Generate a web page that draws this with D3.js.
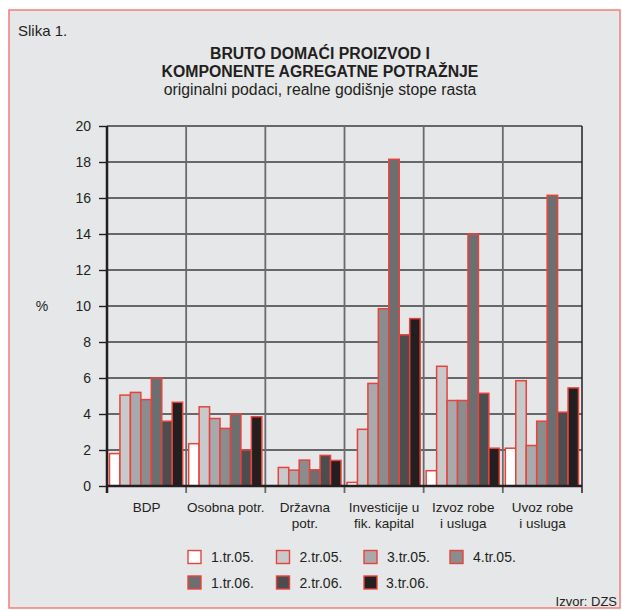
<!DOCTYPE html>
<html><head><meta charset="utf-8">
<script src="https://cdn.jsdelivr.net/npm/d3@7"></script>
<style>
html,body{margin:0;padding:0;background:#fff;}
svg text{font-family:"Liberation Sans",Arial,Helvetica,sans-serif;fill:#231f20;}
</style></head>
<body>
<svg id="chart" width="622" height="610"></svg>
<script>
const categories = [["BDP"],["Osobna potr."],["Državna","potr."],["Investicije u","fik. kapital"],["Izvoz robe","i usluga"],["Uvoz robe","i usluga"]];
const seriesNames = ["1.tr.05.","2.tr.05.","3.tr.05.","4.tr.05.","1.tr.06.","2.tr.06.","3.tr.06."];
const seriesColors = ["#ffffff","#c8c9cb","#a7a9ac","#8a8c8e","#6d6e70","#4d4d4f","#231f20"];
const valBDP = [1.8, 5.05, 5.2, 4.8, 6.0, 3.6, 4.65];
const valOsobna = [2.35, 4.4, 3.75, 3.2, 4.0, 2.0, 3.85];
const valDrzavna = [0.0, 1.03, 0.88, 1.44, 0.9, 1.7, 1.42];
const valInvesticije = [0.2, 3.15, 5.7, 9.85, 18.15, 8.4, 9.3];
const valIzvoz = [0.85, 6.65, 4.75, 4.75, 14.0, 5.15, 2.1];
const valUvoz = [2.1, 5.85, 2.25, 3.6, 16.15, 4.1, 5.45];
const yTicks = [0,2,4,6,8,10,12,14,16,18,20];

(function(){
const values = [valBDP, valOsobna, valDrzavna, valInvesticije, valIzvoz, valUvoz];
const svg = d3.select("#chart");

// frame
svg.append("rect").attr("x",9).attr("y",10).attr("width",611).attr("height",598)
  .attr("fill","#e6e7e9").attr("stroke","#f07f7a").attr("stroke-width",1.5);

svg.append("text").attr("x",18).attr("y",35.5).attr("font-size",15).text("Slika 1.");
svg.append("text").attr("x",320).attr("y",59).attr("font-size",15.8).attr("font-weight","bold").attr("text-anchor","middle").text("BRUTO DOMAĆI PROIZVOD I");
svg.append("text").attr("x",320).attr("y",77).attr("font-size",15.8).attr("font-weight","bold").attr("text-anchor","middle").text("KOMPONENTE AGREGATNE POTRAŽNJE");
svg.append("text").attr("x",320).attr("y",94.5).attr("font-size",15.8).attr("text-anchor","middle").text("originalni podaci, realne godišnje stope rasta");

const pLeft = 107, pRight = 582, pTop = 126, pBottom = 486;
const y = d3.scaleLinear().domain([0,20]).range([pBottom, pTop]);
const x0 = d3.scaleBand().domain(d3.range(categories.length)).range([pLeft,pRight]).paddingInner(0).paddingOuter(0);
const x1 = d3.scaleBand().domain(d3.range(seriesNames.length)).range([2.5, x0.bandwidth()-3.5]).padding(0);

// horizontal grid
svg.append("g").selectAll("line").data(yTicks.filter(d=>d>0)).join("line")
  .attr("x1",pLeft).attr("x2",pRight).attr("y1",d=>y(d)).attr("y2",d=>y(d))
  .attr("stroke","#3c3c3e").attr("stroke-width",1.4);

// vertical separators
svg.append("g").selectAll("line").data(d3.range(1,categories.length)).join("line")
  .attr("x1",d=>x0(d)).attr("x2",d=>x0(d)).attr("y1",pTop).attr("y2",pBottom+7)
  .attr("stroke","#6a6a6c").attr("stroke-width",1.8);
svg.append("line").attr("x1",pRight).attr("x2",pRight).attr("y1",pTop).attr("y2",pBottom+7)
  .attr("stroke","#231f20").attr("stroke-width",1.5);

// bars
const groups = svg.append("g").selectAll("g").data(values).join("g")
  .attr("transform",(d,i)=>`translate(${x0(i)},0)`);
groups.selectAll("rect").data(d=>d.map((v,j)=>({v,j})).filter(e=>e.v>0)).join("rect")
  .attr("x",e=>x1(e.j)).attr("width",x1.bandwidth())
  .attr("y",e=>y(e.v)).attr("height",e=>y(0)-y(e.v))
  .attr("fill",e=>seriesColors[e.j]).attr("stroke","#e8433b").attr("stroke-width",1.5);

// y axis
const yAxis = d3.axisLeft(y).tickValues(yTicks).tickSize(8).tickPadding(8);
const ga = svg.append("g").attr("transform",`translate(${pLeft},0)`).call(yAxis);
ga.select(".domain").remove();
ga.selectAll(".tick line").attr("stroke","#231f20").attr("stroke-width",1.4);
ga.selectAll(".tick text").attr("font-size",14).attr("fill","#231f20").attr("font-family","Liberation Sans, Arial, sans-serif");
svg.append("line").attr("x1",pLeft).attr("x2",pLeft).attr("y1",pTop).attr("y2",pBottom+7)
  .attr("stroke","#231f20").attr("stroke-width",2.5);
svg.append("line").attr("x1",pLeft).attr("x2",pRight).attr("y1",pBottom).attr("y2",pBottom)
  .attr("stroke","#231f20").attr("stroke-width",2.5);

svg.append("text").attr("x",42).attr("y",311).attr("font-size",14).attr("text-anchor","middle").text("%");

// category labels
const cl = svg.append("g").selectAll("text").data(categories).join("text")
  .attr("x",(d,i)=>x0(i)+x0.bandwidth()/2).attr("y",512).attr("font-size",13.5).attr("text-anchor","middle");
cl.selectAll("tspan").data(d=>d).join("tspan")
  .attr("x",function(){return this.parentNode.getAttribute("x");})
  .attr("dy",(d,k)=>k===0?0:16).text(d=>d);

// legend
const legX = [188,276.5,364,450];
const legY = [550.5,576];
const leg = svg.append("g").selectAll("g").data(seriesNames).join("g")
  .attr("transform",(d,i)=>`translate(${legX[i%4]},${legY[Math.floor(i/4)]})`);
leg.append("rect").attr("width",13).attr("height",13)
  .attr("fill",(d,i)=>seriesColors[i]).attr("stroke","#e8433b").attr("stroke-width",1.4);
leg.append("text").attr("x",(d,i)=>i===6?22:23).attr("y",11.5).attr("font-size",14).text(d=>d);

svg.append("text").attr("x",617).attr("y",606).attr("font-size",13).attr("text-anchor","end").text("Izvor: DZS");
})();
</script>
</body></html>
